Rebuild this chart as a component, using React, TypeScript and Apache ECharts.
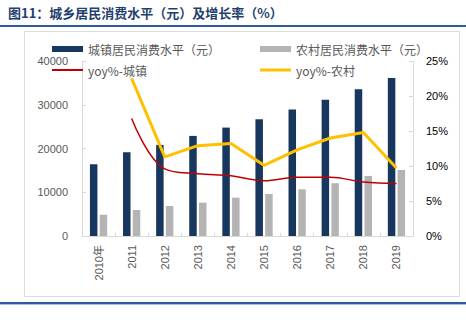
import React, { useEffect, useRef } from "react";
import * as echarts from "echarts";

const years = ["2010年", "2011", "2012", "2013", "2014", "2015", "2016", "2017", "2018", "2019"];
const urbanConsumption = [16400, 19150, 20820, 22880, 24780, 26700, 28900, 31120, 33570, 36090];
const ruralConsumption = [4870, 5950, 6860, 7620, 8770, 9610, 10680, 12060, 13730, 15100];
const urbanYoy = [null, 16.8, 9.6, 8.9, 8.6, 7.9, 8.4, 8.4, 7.7, 7.5];
const ruralYoy = [null, 22.5, 11.3, 12.9, 13.2, 10.1, 12.3, 14.0, 14.8, 9.7];
const leftTicks = { min: 0, max: 40000, interval: 10000 };
const rightTicks = { min: 0, max: 25, interval: 5 };

const FONT = "'Noto Sans CJK SC', 'Noto Sans', sans-serif";
const GRAY_TEXT = "#595959";
const AXIS_GRAY = "#d9d9d9";

export default function App() {
  const ref = useRef<HTMLDivElement>(null);
  useEffect(() => {
    if (!ref.current) return;
    const chart = echarts.init(ref.current, undefined, { renderer: "svg" });
    const legendBase = {
      textStyle: { color: GRAY_TEXT, fontSize: 12, fontFamily: FONT },
      itemGap: 5,
      padding: 0,
    };
    chart.setOption({
      animation: false,
      backgroundColor: "#ffffff",
      title: {
        text: "图11：城乡居民消费水平（元）及增长率（%）",
        left: 8,
        top: 6,
        padding: 0,
        textStyle: { color: "#1F3F6E", fontSize: 13, fontWeight: "bold", fontFamily: FONT },
      },
      graphic: [
        { type: "rect", shape: { x: 0, y: 25, width: 466, height: 2 }, style: { fill: "#2E5C9A" }, silent: true },
        { type: "rect", shape: { x: 24.5, y: 31.5, width: 435, height: 265 }, style: { fill: "none", stroke: "#dcdcdc", lineWidth: 1 }, silent: true, z: -10 },
        { type: "rect", shape: { x: 0, y: 302, width: 466, height: 2 }, style: { fill: "#2E5C9A" }, silent: true },
        { type: "rect", shape: { x: 0, y: 304, width: 466, height: 1 }, style: { fill: "#A9C0DE" }, silent: true },
      ],
      legend: [
        { ...legendBase, data: [{ name: "城镇居民消费水平（元）" }], left: 52, top: 43, itemWidth: 31, itemHeight: 6, icon: "rect" },
        { ...legendBase, data: [{ name: "农村居民消费水平（元）" }], left: 260, top: 43, itemWidth: 31, itemHeight: 6, icon: "rect" },
        { ...legendBase, data: [{ name: "yoy%-城镇" }], left: 52, top: 64, itemWidth: 31, itemHeight: 2, icon: "rect" },
        { ...legendBase, data: [{ name: "yoy%-农村" }], left: 260, top: 64, itemWidth: 31, itemHeight: 3, icon: "rect" },
      ],
      grid: { left: 82, right: 53, top: 61, bottom: 90 },
      xAxis: {
        type: "category",
        data: years,
        boundaryGap: true,
        axisLine: { lineStyle: { color: AXIS_GRAY } },
        axisTick: { show: true, inside: true, length: 3, lineStyle: { color: AXIS_GRAY } },
        axisLabel: { rotate: 90, margin: 9, color: GRAY_TEXT, fontSize: 11, fontFamily: "Arial, 'Liberation Sans', " + FONT },
      },
      yAxis: [
        {
          type: "value",
          ...leftTicks,
          position: "left",
          axisLine: { show: true, lineStyle: { color: AXIS_GRAY } },
          axisTick: { show: true, inside: true, length: 4, lineStyle: { color: AXIS_GRAY } },
          splitLine: { show: false },
          axisLabel: {
            margin: 14,
            formatter: (v: number) => String(v),
            color: GRAY_TEXT,
            fontSize: 11,
            fontFamily: "Arial, 'Liberation Sans', sans-serif",
          },
        },
        {
          type: "value",
          ...rightTicks,
          position: "right",
          axisLine: { show: true, lineStyle: { color: AXIS_GRAY } },
          axisTick: { show: true, inside: true, length: 4, lineStyle: { color: AXIS_GRAY } },
          splitLine: { show: false },
          axisLabel: { margin: 13, formatter: "{value}%", color: "#000000", fontSize: 11, fontFamily: "Arial, 'Liberation Sans', sans-serif" },
        },
      ],
      series: [
        {
          name: "城镇居民消费水平（元）",
          type: "bar",
          data: urbanConsumption,
          barWidth: 7.5,
          barGap: "30%",
          itemStyle: { color: "#17375E" },
        },
        {
          name: "农村居民消费水平（元）",
          type: "bar",
          data: ruralConsumption,
          barWidth: 7.5,
          barGap: "30%",
          itemStyle: { color: "#B4B4B4" },
        },
        {
          name: "yoy%-城镇",
          type: "line",
          yAxisIndex: 1,
          data: urbanYoy,
          smooth: 0.4,
          symbol: "none",
          color: "#C00000",
          lineStyle: { color: "#C00000", width: 1.5 },
          itemStyle: { color: "#C00000" },
          z: 5,
        },
        {
          name: "yoy%-农村",
          type: "line",
          yAxisIndex: 1,
          data: ruralYoy,
          symbol: "none",
          color: "#FFC000",
          lineStyle: { color: "#FFC000", width: 3 },
          itemStyle: { color: "#FFC000" },
          z: 6,
        },
      ],
    });
    return () => chart.dispose();
  }, []);
  return (
    <div
      ref={ref}
      style={{ position: "fixed", left: 0, top: 0, width: 466, height: 326 }}
    />
  );
}
